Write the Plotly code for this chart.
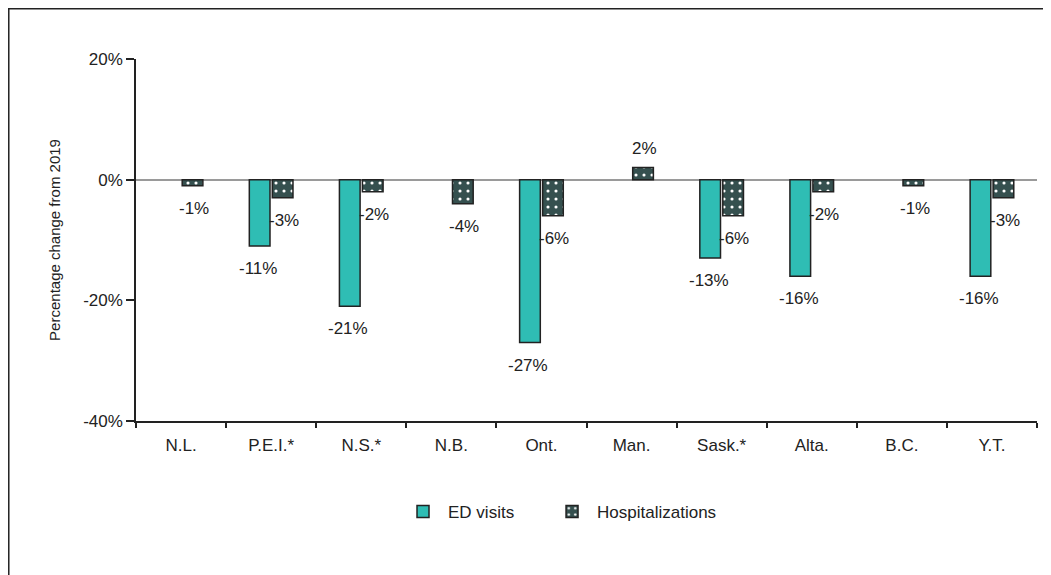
import plotly.graph_objects as go

categories = ["N.L.", "P.E.I.*", "N.S.*", "N.B.", "Ont.", "Man.", "Sask.*", "Alta.", "B.C.", "Y.T."]
ed_visits = [None, -11, -21, None, -27, None, -13, -16, None, -16]
hospitalizations = [-1, -3, -2, -4, -6, 2, -6, -2, -1, -3]
y_tick_vals = [-40, -20, 0, 20]
y_tick_text = ["-40%", "-20%", "0%", "20%"]

FONT = "Liberation Sans Narrow, Arial Narrow, Liberation Sans, Arial, sans-serif"
TEAL = "#2FBDB4"
SLATE = "#35504F"
INK = "#222222"

fig = go.Figure()
fig.add_trace(go.Bar(
    name="ED visits", x=categories, y=ed_visits, legend="legend",
    marker=dict(color=TEAL, line=dict(color=INK, width=1.5)),
))
fig.add_trace(go.Bar(
    name="Hospitalizations", x=categories, y=hospitalizations, legend="legend2",
    marker=dict(color=SLATE, line=dict(color=INK, width=1.5),
                pattern=dict(shape=".", fgcolor="white", bgcolor=SLATE,
                             size=8, solidity=0.12, fillmode="replace")),
))

annotations = []
for series, shift in ((ed_visits, -13), (hospitalizations, 12.7)):
    for c, v in zip(categories, series):
        if v is None:
            continue
        neg = v < 0
        annotations.append(dict(
            x=c, y=v, xref="x", yref="y", text=f"{v}%", showarrow=False,
            xshift=shift, yshift=-11 if neg else 8,
            yanchor="top" if neg else "bottom",
            font=dict(family=FONT, size=17, color=INK),
        ))

# outer frame: top and left lines (figure is offset by the 8px page margin)
shapes = [dict(type="path", xref="paper", yref="paper",
               path="M -0.1412,-0.45 L -0.1412,1.1390 L 1.03,1.1390",
               line=dict(color=INK, width=1.5))]

legend_common = dict(orientation="h", y=-0.251, yanchor="middle", xanchor="left",
                     font=dict(family=FONT, size=17), itemwidth=40,
                     bgcolor="rgba(0,0,0,0)")

fig.update_layout(
    width=1043, height=567,
    margin=dict(l=128, r=14, t=51, b=154),
    paper_bgcolor="white", plot_bgcolor="white",
    barmode="group", bargap=0.49, bargroupgap=0.1,
    font=dict(family=FONT, size=17, color=INK),
    showlegend=True,
    legend=dict(x=0.2908, **legend_common),
    legend2=dict(x=0.4562, **legend_common),
    annotations=annotations,
    shapes=shapes,
    xaxis=dict(showline=True, linecolor=INK, linewidth=1.5,
               ticks="outside", ticklen=5, tickcolor=INK, tickwidth=1.5,
               tickson="boundaries", showgrid=False, zeroline=False,
               ticklabelstandoff=8,
               tickfont=dict(family=FONT, size=17)),
    yaxis=dict(range=[-40, 20], tickvals=y_tick_vals, ticktext=y_tick_text,
               showline=True, linecolor=INK, linewidth=1.5,
               ticks="outside", ticklen=8, tickcolor=INK, tickwidth=1.5,
               showgrid=False, zeroline=True, zerolinecolor="#9a9a9a", zerolinewidth=1.5,
               title=dict(text="Percentage change from 2019", standoff=19,
                          font=dict(family=FONT, size=15)),
               tickfont=dict(family=FONT, size=17)),
)

fig.write_html("out.html")
